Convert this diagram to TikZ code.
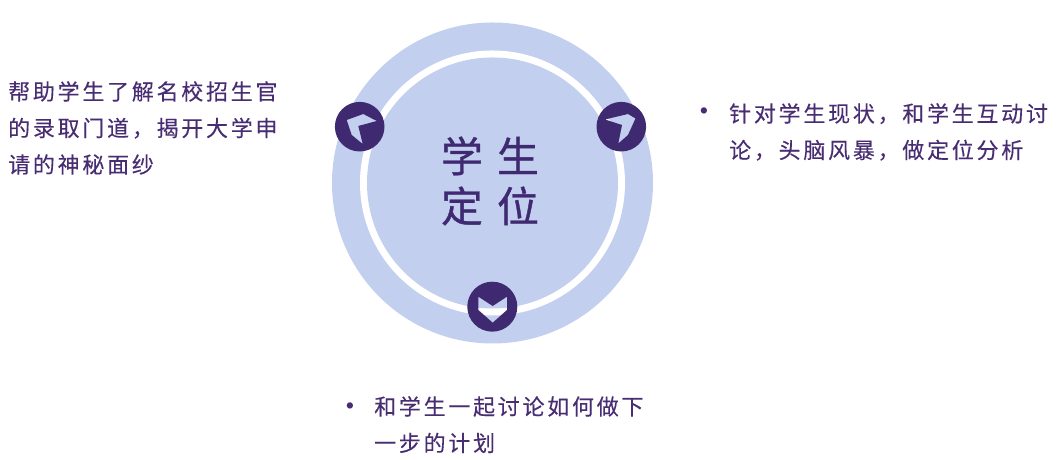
\documentclass[tikz,border=0pt]{standalone}
\usepackage{fontspec}
\newfontfamily\cjkbody[LetterSpace=12.6,FakeBold=0.25]{Noto Sans CJK SC}
\newfontfamily\cjktitle[LetterSpace=34,FakeBold=0.9]{Noto Sans CJK SC}
\definecolor{ringblue}{RGB}{195,207,238}
\definecolor{badgepurple}{RGB}{63,42,114}
\definecolor{textpurple}{RGB}{72,45,115}
\tikzset{
  bodytext/.style={anchor=north west,inner sep=0pt,align=left,text=textpurple,
    font=\cjkbody\fontsize{6.25}{10.39}\selectfont},
  titletext/.style={inner sep=0pt,align=center,text=badgepurple,
    font=\cjktitle\fontsize{11.9}{14.2}\selectfont},
  bullettext/.style={inner sep=0pt,text=textpurple,font=\fontsize{6}{6}\selectfont},
  badge/.style={fill=badgepurple,even odd rule}
}
\begin{document}
\begin{tikzpicture}
            \useasboundingbox (0.000000,0.000000) rectangle (10.560000,4.600000);

            % Drawing rings
            \fill [ringblue] (4.925000,2.770000) circle (1.605000);%
            \fill [white] (4.925000,2.770000) circle (1.325000);%
            \fill [ringblue] (4.925000,2.770000) circle (1.255000);%

            % Drawing badges, the arrows are holes
            \fill [badge] (3.597000,3.333000) circle (0.248000)
              (3.467000,3.400000) -- (3.633000,3.460000) -- (3.767000,3.390000) -- (3.583000,3.340000)
              -- (3.627000,3.160000) -- (3.517000,3.250000) -- cycle;%
            \fill [badge] (6.213000,3.333000) circle (0.248000)
              (6.355000,3.415000) -- (6.280000,3.460000) -- (6.050000,3.405000) -- (6.220000,3.350000)
              -- (6.183000,3.165000) -- (6.280000,3.250000) -- cycle;%
            \fill [badge] (4.923000,1.533000) circle (0.250000)
              (4.783000,1.633000) -- (4.927000,1.540000) -- (5.070000,1.633000) -- (5.070000,1.500000)
              -- (4.927000,1.373000) -- (4.783000,1.500000) -- cycle;%

            % Marking title
            \node [titletext] (title) at (4.900000,2.790000) {学生\\定位};

            % Marking left text
            \node [bodytext] (lefttext) at (0.075000,3.795000) {帮助学生了解名校招生官\\的录取门道，揭开大学申\\请的神秘面纱};

            % Marking right text
            \node [bullettext] (rightdot) at (7.040000,3.480000) {•};
            \node [bodytext] (righttext) at (7.285000,3.575000) {针对学生现状，和学生互动讨\\论，头脑风暴，做定位分析};

            % Marking bottom text
            \node [bullettext] (bottomdot) at (3.500000,0.530000) {•};
            \node [bodytext] (bottomtext) at (3.735000,0.645000) {和学生一起讨论如何做下\\一步的计划};
\end{tikzpicture}
\end{document}
